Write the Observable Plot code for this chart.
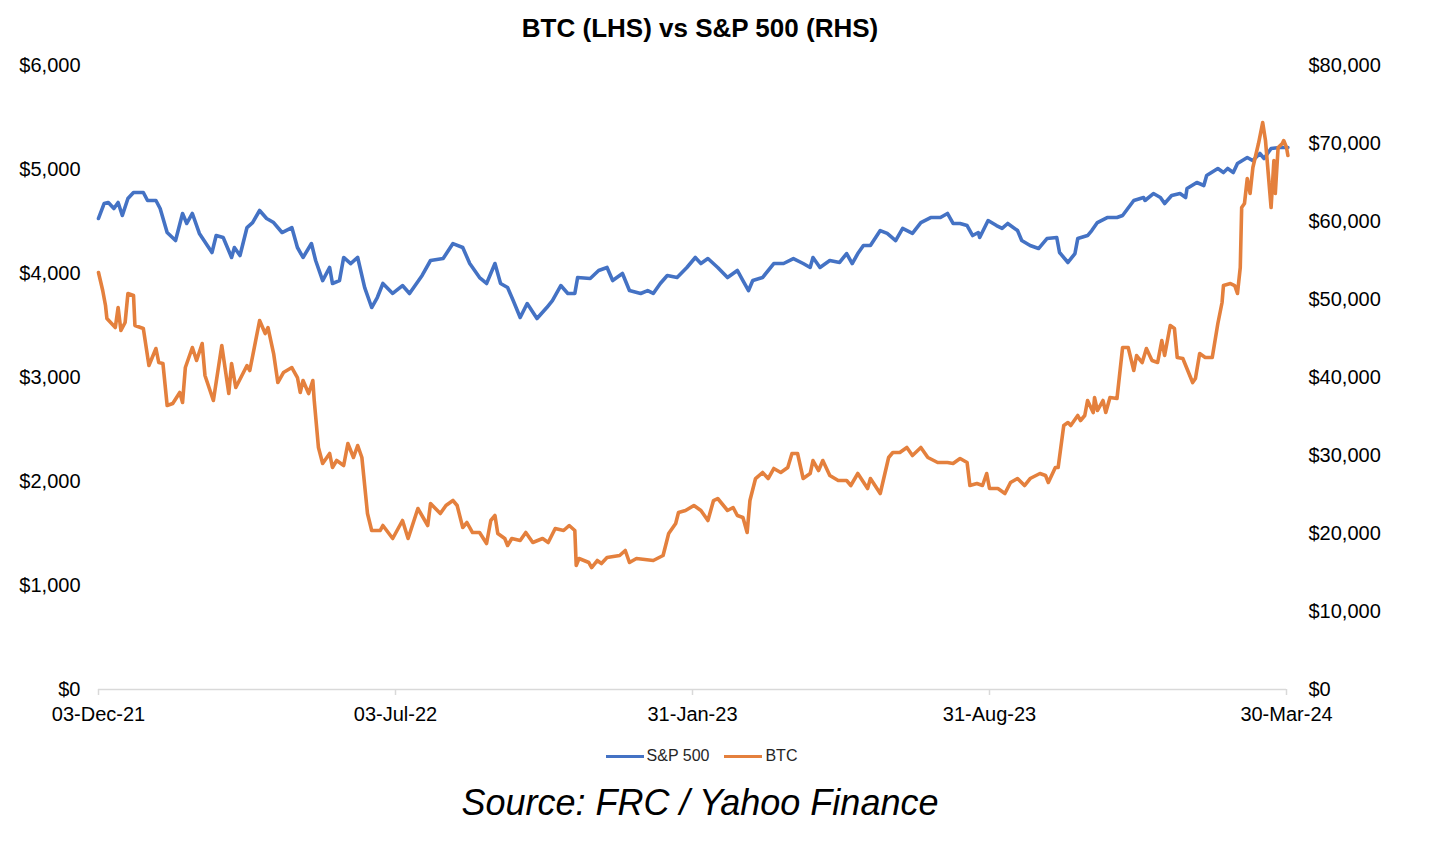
<!DOCTYPE html>
<html>
<head>
<meta charset="utf-8">
<script src="https://cdn.jsdelivr.net/npm/d3@7"></script>
<script src="https://cdn.jsdelivr.net/npm/@observablehq/plot@0.6"></script>
<style>
  body { margin: 0; background: #fff; font-family: "Liberation Sans", Arial, sans-serif; }
  #wrap { position: relative; width: 1436px; height: 858px; overflow: hidden; }
  #title { position: absolute; left: 0; width: 1400px; top: 15px; text-align: center; font-weight: bold; font-size: 26px; line-height: 26px; color: #000; }
  #chart { position: absolute; left: 0; top: 50px; }
  #legend { position: absolute; left: 0; width: 1403px; top: 746px; height: 20px; display: flex; justify-content: center; align-items: center; font-size: 16px; line-height: 20px; color: #262626; }
  #legend .sw { display: inline-block; width: 38px; height: 3px; margin-right: 3px; }
  #legend .lab { margin-right: 15px; }
  #legend .lab:last-child { margin-right: 0; }
  #caption { position: absolute; left: 0; width: 1400px; top: 785px; text-align: center; font-style: italic; font-size: 36px; line-height: 36px; color: #000; }
</style>
</head>
<body>
<div id="wrap">
  <div id="title">BTC (LHS) vs S&amp;P 500 (RHS)</div>
  <div id="chart"></div>
  <div id="legend">
    <span class="sw" style="background:#4472C4"></span><span class="lab">S&amp;P 500</span>
    <span class="sw" style="background:#E4803D"></span><span class="lab">BTC</span>
  </div>
  <div id="caption">Source: FRC / Yahoo Finance</div>
</div>
<script>
// ---- Data ----
const spxDates = [
"2021-12-03","2021-12-07","2021-12-10","2021-12-14","2021-12-17","2021-12-20","2021-12-24","2021-12-28","2022-01-04","2022-01-07",
"2022-01-13","2022-01-16","2022-01-21","2022-01-27","2022-02-01","2022-02-04","2022-02-08","2022-02-13","2022-02-22","2022-02-25",
"2022-03-02","2022-03-08","2022-03-10","2022-03-14","2022-03-19","2022-03-23","2022-03-28","2022-04-02","2022-04-07","2022-04-13",
"2022-04-20","2022-04-24","2022-04-28","2022-05-04","2022-05-07","2022-05-12","2022-05-17","2022-05-19","2022-05-24","2022-05-27",
"2022-06-01","2022-06-06","2022-06-11","2022-06-16","2022-06-20","2022-06-24","2022-07-01","2022-07-08","2022-07-13","2022-07-22",
"2022-07-28","2022-08-06","2022-08-13","2022-08-20","2022-08-25","2022-09-01","2022-09-06","2022-09-12","2022-09-16","2022-09-21",
"2022-09-25","2022-09-30","2022-10-05","2022-10-12","2022-10-19","2022-10-23","2022-10-29","2022-11-03","2022-11-08","2022-11-10",
"2022-11-19","2022-11-25","2022-12-01","2022-12-05","2022-12-12","2022-12-17","2022-12-25","2022-12-30","2023-01-03","2023-01-08",
"2023-01-13","2023-01-20","2023-01-27","2023-02-02","2023-02-06","2023-02-11","2023-02-18","2023-02-25","2023-03-04","2023-03-08",
"2023-03-12","2023-03-15","2023-03-22","2023-03-30","2023-04-06","2023-04-13","2023-04-20","2023-04-25","2023-04-27","2023-05-02",
"2023-05-09","2023-05-16","2023-05-21","2023-05-25","2023-05-29","2023-06-02","2023-06-07","2023-06-14","2023-06-19","2023-06-25",
"2023-06-30","2023-07-07","2023-07-13","2023-07-20","2023-07-27","2023-08-01","2023-08-05","2023-08-10","2023-08-15","2023-08-19",
"2023-08-23","2023-08-24","2023-08-30","2023-09-05","2023-09-09","2023-09-13","2023-09-20","2023-09-23","2023-09-29","2023-10-05",
"2023-10-11","2023-10-18","2023-10-20","2023-10-26","2023-10-31","2023-11-02","2023-11-09","2023-11-12","2023-11-16","2023-11-23",
"2023-11-30","2023-12-04","2023-12-12","2023-12-19","2023-12-20","2023-12-26","2023-12-31","2024-01-03","2024-01-08","2024-01-14",
"2024-01-18","2024-01-19","2024-01-26","2024-01-31","2024-02-02","2024-02-10","2024-02-14","2024-02-17","2024-02-21","2024-02-24",
"2024-03-02","2024-03-06","2024-03-11","2024-03-14","2024-03-19","2024-03-25","2024-03-31"
];
const spxValues = [
4529,4673,4683,4625,4683,4558,4721,4779,4779,4702,
4702,4625,4394,4317,4577,4481,4577,4385,4202,4365,
4346,4154,4250,4173,4442,4490,4606,4529,4490,4394,
4442,4250,4154,4288,4125,3932,4058,3904,3932,4154,
4096,4154,3865,3673,3769,3904,3808,3884,3808,3981,
4125,4144,4288,4250,4096,3961,3904,4096,3904,3865,
3740,3577,3711,3567,3673,3740,3884,3808,3808,3961,
3952,4029,4058,3932,4000,3836,3808,3836,3808,3904,
3981,3961,4058,4154,4096,4144,4058,3961,4029,3932,
3836,3932,3961,4096,4096,4144,4096,4058,4154,4058,
4125,4106,4192,4096,4192,4269,4269,4413,4385,4317,
4433,4385,4490,4538,4538,4577,4481,4481,4461,4365,
4394,4346,4509,4461,4433,4481,4413,4317,4269,4240,
4336,4346,4202,4106,4192,4336,4365,4413,4490,4538,
4538,4558,4702,4731,4702,4769,4731,4673,4750,4769,
4731,4817,4875,4846,4942,5010,4971,5010,4971,5058,
5115,5086,5154,5106,5202,5211,5211
];

const btcDates = [
"2021-12-03","2021-12-06","2021-12-08","2021-12-09","2021-12-15","2021-12-17","2021-12-19","2021-12-22","2021-12-24","2021-12-28",
"2021-12-29","2022-01-04","2022-01-08","2022-01-13","2022-01-15","2022-01-18","2022-01-21","2022-01-25","2022-01-30","2022-02-01",
"2022-02-03","2022-02-08","2022-02-11","2022-02-15","2022-02-17","2022-02-23","2022-03-01","2022-03-06","2022-03-08","2022-03-11",
"2022-03-19","2022-03-21","2022-03-28","2022-04-01","2022-04-03","2022-04-07","2022-04-10","2022-04-14","2022-04-20","2022-04-24",
"2022-04-26","2022-04-28","2022-05-02","2022-05-05","2022-05-06","2022-05-09","2022-05-12","2022-05-17","2022-05-19","2022-05-22",
"2022-05-27","2022-05-30","2022-06-03","2022-06-06","2022-06-09","2022-06-13","2022-06-16","2022-06-22","2022-06-24","2022-07-01",
"2022-07-08","2022-07-12","2022-07-19","2022-07-26","2022-07-28","2022-08-04","2022-08-08","2022-08-13","2022-08-16","2022-08-20",
"2022-08-23","2022-08-27","2022-09-01","2022-09-06","2022-09-09","2022-09-12","2022-09-14","2022-09-19","2022-09-21","2022-09-24",
"2022-09-30","2022-10-04","2022-10-09","2022-10-16","2022-10-20","2022-10-25","2022-10-31","2022-11-04","2022-11-08","2022-11-09",
"2022-11-11","2022-11-18","2022-11-20","2022-11-24","2022-11-27","2022-12-01","2022-12-10","2022-12-14","2022-12-17","2022-12-22",
"2023-01-03","2023-01-10","2023-01-14","2023-01-19","2023-01-21","2023-01-26","2023-02-01","2023-02-06","2023-02-11","2023-02-15",
"2023-02-18","2023-02-25","2023-03-01","2023-03-04","2023-03-08","2023-03-11","2023-03-13","2023-03-17","2023-03-22","2023-03-26",
"2023-03-30","2023-04-04","2023-04-09","2023-04-12","2023-04-16","2023-04-20","2023-04-25","2023-04-27","2023-05-01","2023-05-04",
"2023-05-09","2023-05-15","2023-05-21","2023-05-24","2023-05-29","2023-06-05","2023-06-07","2023-06-14","2023-06-20","2023-06-23",
"2023-06-28","2023-07-03","2023-07-07","2023-07-13","2023-07-18","2023-07-25","2023-08-01","2023-08-05","2023-08-10","2023-08-15",
"2023-08-17","2023-08-22","2023-08-26","2023-08-29","2023-08-31","2023-09-06","2023-09-11","2023-09-15","2023-09-20","2023-09-25",
"2023-09-29","2023-10-06","2023-10-10","2023-10-12","2023-10-17","2023-10-19","2023-10-23","2023-10-26","2023-10-28","2023-11-02",
"2023-11-04","2023-11-07","2023-11-09","2023-11-13","2023-11-14","2023-11-16","2023-11-20","2023-11-22","2023-11-25","2023-11-30",
"2023-12-04","2023-12-08","2023-12-12","2023-12-14","2023-12-18","2023-12-21","2023-12-25","2023-12-29","2024-01-01","2024-01-03",
"2024-01-07","2024-01-10","2024-01-12","2024-01-16","2024-01-23","2024-01-25","2024-01-28","2024-02-01","2024-02-06","2024-02-10",
"2024-02-13","2024-02-14","2024-02-19","2024-02-22","2024-02-24","2024-02-26","2024-02-27","2024-02-29","2024-03-02","2024-03-04",
"2024-03-06","2024-03-10","2024-03-13","2024-03-15","2024-03-19","2024-03-21","2024-03-22","2024-03-24","2024-03-27","2024-03-28",
"2024-03-30","2024-03-31"
];
const btcValues = [
53459,51152,49229,47562,46408,48972,46024,47049,50767,50511,
46665,46280,41537,43716,41921,41793,36409,36665,38075,36793,
41280,43844,42178,44357,40255,37050,44101,37947,41793,38716,
41537,40896,47306,45639,46408,43075,39357,40639,41280,39998,
38075,39614,37947,39614,37050,31024,28973,30255,28460,29358,
28717,31537,29742,31281,29742,22563,20384,20384,21025,19358,
21666,19358,23204,21025,23845,22563,23589,24230,23589,20768,
21409,20127,20127,18717,21666,22307,19999,19358,18461,19358,
19102,20127,18845,19358,18845,20640,20384,21025,20384,15897,
16794,16281,15640,16538,16153,16922,17179,17820,16281,16794,
16538,17179,19999,21281,22691,22948,23589,22948,21666,24230,
24486,22948,23332,22307,22050,20127,24230,27050,27819,27050,
28332,27819,28460,30255,30255,27050,27691,29358,28076,29358,
27435,26794,26794,26153,27691,25768,27050,25127,29742,30383,
30383,31024,29999,31024,29742,29101,29101,28973,29614,29101,
26153,26409,26153,27691,25768,25768,25127,26537,27050,26153,
27050,27691,27435,26537,28460,28460,33845,34229,33845,35127,
34486,35127,37050,35511,37434,35768,37050,35511,37434,37306,
43844,43844,40896,42819,41921,43716,42178,41921,44742,42819,
46665,46280,42562,42434,39357,39870,43075,42562,42562,46921,
49613,51793,52049,51793,50767,54100,61792,62305,65510,63587,
66920,69997,72689,70382,61792,67818,63587,69484,69997,70382,
69484,68459
];

const xTickDates = ["2021-12-03","2022-07-03","2023-01-31","2023-08-31","2024-03-30"];
const xTickLabels = ["03-Dec-21","03-Jul-22","31-Jan-23","31-Aug-23","30-Mar-24"];
const leftTicks = [0,1000,2000,3000,4000,5000,6000];
const rightTicks = [0,10000,20000,30000,40000,50000,60000,70000,80000];
const leftMax = 6000, rightMax = 80000;

// ---- Build ----
const k = leftMax / rightMax; // maps the right-hand (BTC) scale onto the left-hand y scale
const spx = spxDates.map((d, i) => ({date: new Date(d), value: spxValues[i]}));
const btc = btcDates.map((d, i) => ({date: new Date(d), value: btcValues[i]}));
const xTicks = xTickDates.map(d => new Date(d));
const labelMap = new Map(xTicks.map((d, i) => [+d, xTickLabels[i]]));
const money = d3.format(",");

const chart = Plot.plot({
  width: 1436,
  height: 685,
  marginLeft: 98,
  marginRight: 150,
  marginTop: 15,
  marginBottom: 46,
  style: {fontFamily: "'Liberation Sans', Arial, sans-serif", fontSize: "20px", color: "#000", background: "#fff", overflow: "visible"},
  x: {type: "utc", domain: [xTicks[0], xTicks[xTicks.length - 1]]},
  y: {domain: [0, leftMax]},
  marks: [
    Plot.ruleY([0], {stroke: "#d9d9d9", strokeWidth: 1.5}),
    Plot.axisX(xTicks, {tickSize: 6, tickPadding: 11, stroke: "#d9d9d9", strokeWidth: 1.5, fill: "#000",
      tickFormat: d => labelMap.get(+d), label: null}),
    Plot.axisY(leftTicks, {anchor: "left", tickSize: 0, tickPadding: 18, fill: "#000",
      tickFormat: d => "$" + money(d), label: null}),
    Plot.axisY(rightTicks.map(v => v * k), {anchor: "right", tickSize: 0, tickPadding: 22, fill: "#000",
      tickFormat: d => "$" + money(Math.round(d / k)), label: null}),
    Plot.line(spx, {x: "date", y: "value", stroke: "#4472C4", strokeWidth: 3.6, strokeLinejoin: "round", strokeLinecap: "round"}),
    Plot.line(btc, {x: "date", y: d => d.value * k, stroke: "#E4803D", strokeWidth: 3.6, strokeLinejoin: "round", strokeLinecap: "round"})
  ]
});
document.getElementById("chart").appendChild(chart);
</script>
</body>
</html>
